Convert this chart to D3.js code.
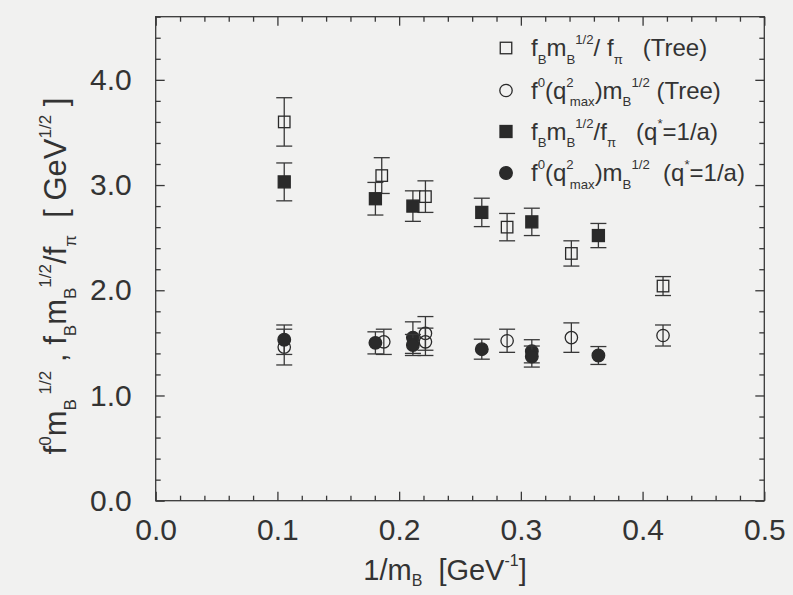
<!DOCTYPE html>
<html>
<head>
<meta charset="utf-8">
<script src="https://cdn.jsdelivr.net/npm/d3@7"></script>
<style>
  html, body { margin: 0; padding: 0; background: #f1f1f0; }
  svg { display: block; }
  text { font-family: "Liberation Sans", Arial, Helvetica, sans-serif; fill: #333; }
</style>
</head>
<body>
<svg id="chart" width="793" height="595"></svg>
<script>
// ---------------- data ----------------
// f_B m_B^{1/2} / f_pi  (Tree)  -- open squares
const treeFbX   = [0.1056, 0.1857, 0.2216, 0.2887, 0.3415, 0.4168];
const treeFbY   = [3.60, 3.09, 2.89, 2.60, 2.35, 2.04];
const treeFbErr = [0.23, 0.17, 0.15, 0.13, 0.12, 0.09];

// f^0(q^2_max) m_B^{1/2}  (Tree)  -- open circles
const treeF0X   = [0.1056, 0.1874, 0.2216, 0.2216, 0.2887, 0.3415, 0.4168];
const treeF0Y   = [1.46, 1.51, 1.59, 1.51, 1.52, 1.55, 1.57];
const treeF0Err = [0.17, 0.12, 0.16, 0.13, 0.11, 0.14, 0.10];

// f_B m_B^{1/2} / f_pi  (q*=1/a)  -- filled squares
const rgFbX   = [0.1056, 0.1805, 0.2113, 0.2679, 0.3090, 0.3637];
const rgFbY   = [3.03, 2.87, 2.80, 2.74, 2.65, 2.52];
const rgFbErr = [0.18, 0.155, 0.145, 0.135, 0.13, 0.115];

// f^0(q^2_max) m_B^{1/2}  (q*=1/a)  -- filled circles
const rgF0X   = [0.1056, 0.1805, 0.2113, 0.2113, 0.2679, 0.3090, 0.3090, 0.3637];
const rgF0Y   = [1.53, 1.50, 1.55, 1.48, 1.44, 1.42, 1.37, 1.38];
const rgF0Err = [0.14, 0.105, 0.15, 0.10, 0.095, 0.11, 0.10, 0.085];

const xTickValues = [0.0, 0.1, 0.2, 0.3, 0.4, 0.5];
const xTickLabels = ["0.0", "0.1", "0.2", "0.3", "0.4", "0.5"];
const yTickValues = [0.0, 1.0, 2.0, 3.0, 4.0];
const yTickLabels = ["0.0", "1.0", "2.0", "3.0", "4.0"];

// ---------------- layout ----------------
const svg = d3.select("#chart");
const L = 155.7, R = 764.3, T = 16.7, B = 500.7;
const x = d3.scaleLinear().domain([0, 0.5]).range([L, R]);
const y = d3.scaleLinear().domain([0, 4.6]).range([B, T]);
const ink = "#383838";

// frame
svg.append("rect").attr("x", L).attr("y", T).attr("width", R - L).attr("height", B - T)
  .attr("fill", "none").attr("stroke", ink).attr("stroke-width", 1.3);

const xMinor = d3.range(0, 0.5001, 0.02).filter(v => Math.abs(v * 10 - Math.round(v * 10)) > 1e-6);
const yMinor = d3.range(0, 4.6001, 0.2).filter(v => Math.abs(v - Math.round(v)) > 1e-6);

function styleAxis(g) {
  g.select(".domain").remove();
  g.selectAll(".tick line").attr("stroke", ink).attr("stroke-width", 1.3);
}
// major ticks with labels
svg.append("g").attr("transform", `translate(0,${B})`)
  .call(d3.axisBottom(x).tickValues(xTickValues).tickSize(-9).tickPadding(18)
        .tickFormat((d, i) => xTickLabels[i]))
  .call(styleAxis)
  .call(g => g.selectAll("text").attr("font-size", 30).attr("fill", "#333")
        .attr("font-family", "Liberation Sans, Arial, sans-serif"));
svg.append("g").attr("transform", `translate(${L},0)`)
  .call(d3.axisLeft(y).tickValues(yTickValues).tickSize(-9).tickPadding(24)
        .tickFormat((d, i) => yTickLabels[i]))
  .call(styleAxis)
  .call(g => g.selectAll("text").attr("font-size", 30).attr("fill", "#333")
        .attr("font-family", "Liberation Sans, Arial, sans-serif"));
svg.append("g").attr("transform", `translate(0,${T})`)
  .call(d3.axisTop(x).tickValues(xTickValues).tickSize(-9).tickFormat(""))
  .call(styleAxis);
svg.append("g").attr("transform", `translate(${R},0)`)
  .call(d3.axisRight(y).tickValues(yTickValues).tickSize(-9).tickFormat(""))
  .call(styleAxis);
// minor ticks
svg.append("g").attr("transform", `translate(0,${B})`)
  .call(d3.axisBottom(x).tickValues(xMinor).tickSize(-5).tickFormat("")).call(styleAxis);
svg.append("g").attr("transform", `translate(0,${T})`)
  .call(d3.axisTop(x).tickValues(xMinor).tickSize(-5).tickFormat("")).call(styleAxis);
svg.append("g").attr("transform", `translate(${L},0)`)
  .call(d3.axisLeft(y).tickValues(yMinor).tickSize(-5).tickFormat("")).call(styleAxis);
svg.append("g").attr("transform", `translate(${R},0)`)
  .call(d3.axisRight(y).tickValues(yMinor).tickSize(-5).tickFormat("")).call(styleAxis);

// ---------------- rich text helper ----------------
// segs: [text, kind, dx] kind: "n" normal, "sub", "sup"
function rich(sel, segs, size, subOff = 0.32) {
  const subSize = size * 0.55;
  let cur = 0;
  segs.forEach(([t, k, extra]) => {
    let off = 0, fs = size;
    if (k === "sub") { off = size * subOff; fs = subSize; }
    if (k === "sup") { off = -size * 0.48; fs = subSize; }
    const ts = sel.append("tspan").attr("dy", off - cur).attr("font-size", fs).text(t);
    if (extra) ts.attr("dx", extra);
    cur = off;
  });
}

// ---------------- series ----------------
const series = [
  { xs: treeFbX, ys: treeFbY, es: treeFbErr, shape: "square", filled: false },
  { xs: treeF0X, ys: treeF0Y, es: treeF0Err, shape: "circle", filled: false },
  { xs: rgFbX,   ys: rgFbY,   es: rgFbErr,   shape: "square", filled: true },
  { xs: rgF0X,   ys: rgF0Y,   es: rgF0Err,   shape: "circle", filled: true },
];

function drawMarker(g, cx, cy, s) {
  if (s.shape === "square") {
    const a = s.filled ? 12 : 11.5;
    g.append("rect").attr("x", cx - a / 2).attr("y", cy - a / 2).attr("width", a).attr("height", a)
      .attr("fill", s.filled ? "#2a2a2a" : "none").attr("stroke", "#2a2a2a").attr("stroke-width", 1.3);
  } else {
    g.append("circle").attr("cx", cx).attr("cy", cy).attr("r", s.filled ? 6.3 : 6.2)
      .attr("fill", s.filled ? "#2a2a2a" : "none").attr("stroke", "#2a2a2a").attr("stroke-width", 1.3);
  }
}

const plot = svg.append("g");
series.forEach(s => {
  const g = plot.append("g");
  s.xs.forEach((xv, i) => {
    const cx = x(xv), cy = y(s.ys[i]);
    const y1 = y(s.ys[i] + s.es[i]), y2 = y(s.ys[i] - s.es[i]);
    g.append("line").attr("x1", cx).attr("x2", cx).attr("y1", y1).attr("y2", y2)
      .attr("stroke", ink).attr("stroke-width", 1.3);
    [y1, y2].forEach(yy => g.append("line").attr("x1", cx - 8).attr("x2", cx + 8)
      .attr("y1", yy).attr("y2", yy).attr("stroke", ink).attr("stroke-width", 1.3));
    drawMarker(g, cx, cy, s);
  });
});

// ---------------- legend ----------------
const legendRows = [
  [["f","n"],["B","sub"],["m","n"],["B","sub"],["1/2","sup"],["/ f","n"],["π","sub"],["   (Tree)","n"]],
  [["f","n"],["0","sup"],["(q","n"],["2","sup"],["max","sub",-4],[")m","n"],["B","sub"],["1/2","sup"],[" (Tree)","n"]],
  [["f","n"],["B","sub"],["m","n"],["B","sub"],["1/2","sup"],["/f","n"],["π","sub"],["   (q","n"],["*","sup"],["=1/a)","n"]],
  [["f","n"],["0","sup"],["(q","n"],["2","sup"],["max","sub",-4],[")m","n"],["B","sub"],["1/2","sup"],["  (q","n"],["*","sup"],["=1/a)","n"]],
];
const legendY = [48, 90.5, 131.5, 173];
const lg = svg.append("g");
legendRows.forEach((segs, i) => {
  const s = series[i];
  drawMarker(lg, 506, legendY[i], s);
  const t = lg.append("text").attr("x", 531).attr("y", legendY[i] + 8)
    .attr("font-size", 24).style("white-space", "pre");
  rich(t, segs, 24);
});

// ---------------- axis titles ----------------
const xt = svg.append("text").attr("x", 445).attr("y", 580).attr("text-anchor", "middle")
  .attr("font-size", 29).style("white-space", "pre");
rich(xt, [["1/m","n"],["B","sub"],["  [GeV","n"],["-1","sup"],["]","n"]], 29, 0.22);

const yt = svg.append("text").attr("transform", "translate(66,276) rotate(-90)")
  .attr("text-anchor", "middle").attr("font-size", 31).style("white-space", "pre");
rich(yt, [["f","n"],["0","sup"],["m","n"],["B","sub"],[" 1/2","sup"],[" , f","n"],["B","sub"],["m","n"],["B","sub"],
          ["1/2","sup"],["/f","n"],["π","sub"],["  [ GeV","n"],["1/2","sup"],[" ]","n"]], 31);
</script>
</body>
</html>
